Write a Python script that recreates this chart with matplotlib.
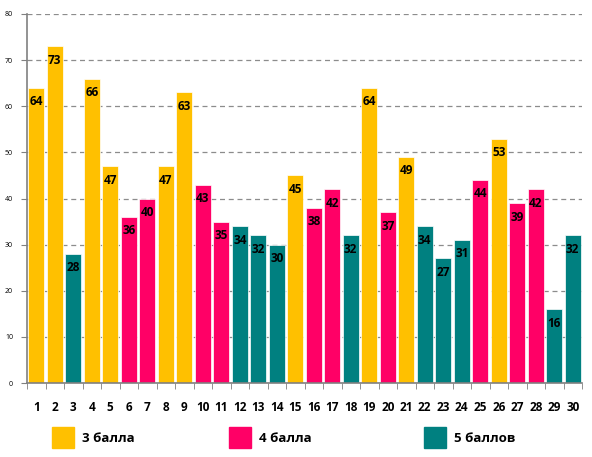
import numpy as np
import matplotlib as mpl
mpl.use('Agg')
import matplotlib.pyplot as plt
from matplotlib.patches import Rectangle

plt.rcParams['font.family'] = ['Open Sans', 'DejaVu Sans']

# data
tasks = list(range(1, 31))
scores = [64, 73, 28, 66, 47, 36, 40, 47, 63, 43, 35, 34, 32, 30, 45,
          38, 42, 32, 64, 37, 49, 34, 27, 31, 44, 53, 39, 42, 16, 32]
groups = [3, 3, 5, 3, 3, 4, 4, 3, 3, 4, 4, 5, 5, 5, 3,
          4, 4, 5, 3, 4, 3, 5, 5, 5, 4, 3, 4, 4, 5, 5]
group_names = {3: '3 балла', 4: '4 балла', 5: '5 баллов'}
colors = {3: '#FFC000', 4: '#FF0066', 5: '#008080'}

fig = plt.figure(figsize=(5.92, 4.57), dpi=100)
ax = fig.add_axes([27 / 592, 1 - 383 / 457, 555 / 592, 369 / 457])

bar_colors = [colors[g] for g in groups]
ax.bar(tasks, scores, width=0.84, color=bar_colors, edgecolor='white', linewidth=0.5, zorder=2)

for x, v in zip(tasks, scores):
    ax.annotate(str(v), (x, v), xytext=(0, -10), textcoords='offset points',
                ha='center', va='center', fontsize=8.5, fontweight='bold', color='black', zorder=3)

ax.set_xlim(0.5, 30.5)
ax.set_ylim(0, 80)
ax.set_yticks(range(0, 81, 10))
ax.yaxis.grid(True, ls='--', color='#8c8c8c', lw=0.9, dashes=(4, 3), zorder=0)
ax.set_xticks(tasks)
ax.set_xticks(np.arange(0.5, 31, 1), minor=True)
ax.tick_params(axis='x', which='major', length=0, pad=13, labelsize=8.5)
ax.tick_params(axis='x', which='minor', length=4, color='#808080')
ax.tick_params(axis='y', length=4, color='#808080', labelsize=5, pad=6)
for lab in ax.get_xticklabels():
    lab.set_fontweight('bold')

for s in ['top', 'right']:
    ax.spines[s].set_visible(False)
for s in ['left', 'bottom']:
    ax.spines[s].set_color('#808080')
    ax.spines[s].set_linewidth(1.2)

# legend
for g, x0 in zip([3, 4, 5], [52, 229, 424]):
    fig.add_artist(Rectangle((x0 / 592, 1 - 448 / 457), 22 / 592, 21 / 457,
                             transform=fig.transFigure, color=colors[g]))
    fig.text((x0 + 30) / 592, 1 - 438 / 457, group_names[g], fontsize=9.5,
             fontweight='bold', va='center', ha='left')

plt.savefig('out.png', dpi=100)
